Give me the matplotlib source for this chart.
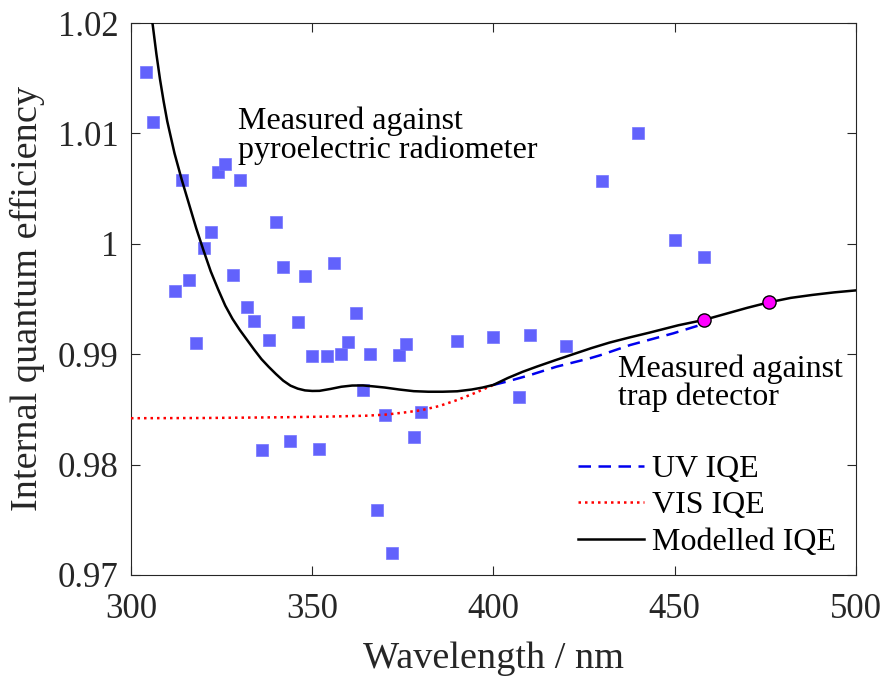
import matplotlib
matplotlib.use("Agg")
from matplotlib import pyplot as plt
import numpy as np

# measured points (pyroelectric radiometer)
wl_pyro = [304, 306, 312, 314, 316, 318, 320, 322, 324, 326, 328, 330, 332, 334,
           336, 338, 340, 342, 344, 346, 348, 350, 352, 354, 356, 358, 360, 362,
           364, 366, 368, 370, 372, 374, 376, 378, 380, 390, 400, 407, 410, 420,
           430, 440, 450, 458]
iqe_pyro = [1.0156, 1.0110, 0.9957, 1.0058, 0.9967, 0.9910, 0.9996, 1.0011,
            1.0065, 1.0072, 0.9972, 1.0058, 0.9943, 0.9930, 0.9813, 0.9913,
            1.0020, 0.9979, 0.9821, 0.9929, 0.9971, 0.9898, 0.9814, 0.9898,
            0.9983, 0.9900, 0.9911, 0.9937, 0.9868, 0.9900, 0.9759, 0.9845,
            0.9720, 0.9899, 0.9909, 0.9825, 0.9848, 0.9912, 0.9916, 0.9861,
            0.9917, 0.9907, 1.0057, 1.0100, 1.0003, 0.9988]

# trap detector points
wl_trap = [458, 476]
iqe_trap = [0.9931, 0.9947]

# UV IQE
wl_uv = [400, 403.6, 410, 417.4, 426.6, 429.4, 437.7, 449.6, 457, 458]
iqe_uv = [0.98722, 0.98751, 0.98810, 0.98887, 0.98963, 0.98990, 0.99083,
          0.99189, 0.99264, 0.99280]

# VIS IQE
wl_vis = [300, 320, 340, 355, 365, 370, 375, 380, 385, 390, 395, 400]
iqe_vis = [0.98420, 0.98422, 0.98428, 0.98435, 0.98443, 0.98452, 0.98470,
           0.98492, 0.98530, 0.98585, 0.98650, 0.98722]

# modelled IQE
wl_mod = [305.5, 306, 307, 308, 309, 310, 312, 314, 316, 318, 320, 322, 324,
          326, 328, 330, 332, 334, 336, 338, 340, 342, 344, 346, 348, 350, 352,
          355, 358, 361, 364, 367, 370, 374, 378, 382, 386, 390, 394, 397,
          400, 404, 408, 412, 417, 422, 427, 432, 437.7, 443, 451, 458, 464,
          470, 476, 482, 488, 494, 500]
iqe_mod = [1.0208, 1.0198, 1.0172, 1.0149, 1.0129, 1.0111, 1.0082, 1.0058,
           1.0036, 1.0014, 0.9994, 0.9975, 0.9959, 0.9944, 0.9932, 0.9922,
           0.9913, 0.9904, 0.98955, 0.98885, 0.98820, 0.98760, 0.98715,
           0.98688, 0.98672, 0.98667, 0.98668, 0.98685, 0.98705, 0.98716,
           0.98717, 0.98708, 0.98698, 0.98680, 0.98665, 0.98660, 0.98660,
           0.98664, 0.98680, 0.98698, 0.98722, 0.98785, 0.98840, 0.98888,
           0.98945, 0.99000, 0.99055, 0.99105, 0.99153, 0.99195, 0.99262,
           0.99310, 0.99365, 0.99420, 0.99470, 0.99510, 0.99537, 0.99560,
           0.99578]

xticks = [300, 350, 400, 450, 500]
yticks = [0.97, 0.98, 0.99, 1.00, 1.01, 1.02]
ytick_labels = ["0.97", "0.98", "0.99", "1", "1.01", "1.02"]

plt.rcParams['font.family'] = ['Liberation Serif', 'DejaVu Serif']

fig = plt.figure(figsize=(8.87, 6.77), dpi=100)
ax = fig.add_axes([0.1477, 0.1507, 0.8173, 0.8153])

ax.plot(wl_pyro, iqe_pyro, 's', ms=8.6, color='#6262FC', mec='#7474FF', mew=0.5,
        zorder=2)
l_uv, = ax.plot(wl_uv, iqe_uv, '--', color='#0000EE', lw=1.8, dashes=(5, 3),
                zorder=3)
l_vis, = ax.plot(wl_vis, iqe_vis, ':', color='#FF0000', lw=1.8, dashes=(1, 1.6),
                 zorder=3)
l_mod, = ax.plot(wl_mod, iqe_mod, '-', color='black', lw=1.8, zorder=4)
ax.plot(wl_trap, iqe_trap, 'o', ms=9.5, mfc='#FF00FF', mec='black', mew=1.0,
        zorder=5)

ax.text(329.5, 1.0124, "Measured against\npyroelectric radiometer", fontsize=23,
        va='top', ha='left', linespacing=0.95)
ax.text(434.3, 0.9900, "Measured against\ntrap detector", fontsize=23,
        va='top', ha='left', linespacing=0.95)

ax.set_xlim(300, 500)
ax.set_ylim(0.97, 1.02)
ax.set_xticks(xticks)
ax.set_yticks(yticks)
ax.set_yticklabels(ytick_labels)
ax.tick_params(direction='in', top=True, right=True, length=6.5, width=0.8,
               labelsize=25, colors='#262626', labelcolor='#262626')
ax.tick_params(axis='x', pad=13)
ax.tick_params(axis='y', pad=9)
for s in ax.spines.values():
    s.set_color('#262626')
    s.set_linewidth(0.8)

ax.set_xlabel("Wavelength / nm", fontsize=27.5, color='#262626', labelpad=11)
ax.set_ylabel("Internal quantum efficiency", fontsize=27.5, color='#262626',
              labelpad=9)

ax.legend([l_uv, l_vis, l_mod], ["UV IQE", "VIS IQE", "Modelled IQE"],
          loc='upper left', bbox_to_anchor=(0.617, 0.218), frameon=False,
          fontsize=23, handlelength=2.05, handletextpad=0.25, labelspacing=0.22,
          borderpad=0, borderaxespad=0)

fig.savefig("out.png", dpi=100)
